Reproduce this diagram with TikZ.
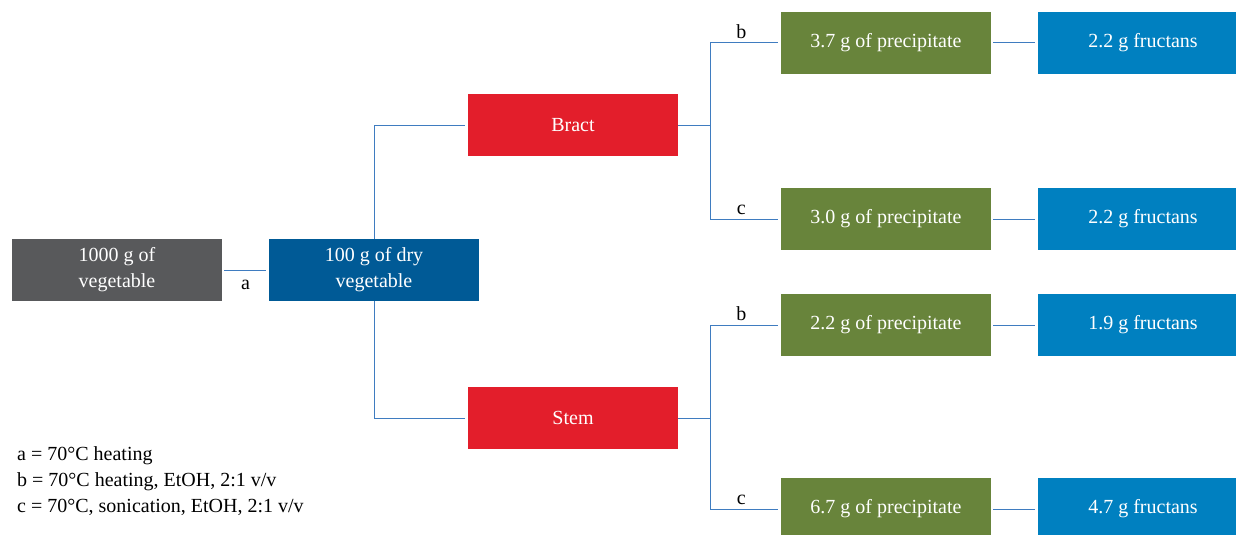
\documentclass[tikz,border=0pt]{standalone}
\usepackage{fontspec}
\setmainfont{Liberation Serif}
\usetikzlibrary{calc}
\definecolor{rawgray}{HTML}{58595B}
\definecolor{drynavy}{HTML}{005A96}
\definecolor{partred}{HTML}{E31E2B}
\definecolor{precgreen}{HTML}{68843B}
\definecolor{fruccyan}{HTML}{0080C0}
\definecolor{linkblue}{HTML}{3F7CC0}
\tikzset{box/.style={minimum width=210pt,minimum height=62pt,inner sep=0pt,
                     text=white,align=center,font=\fontsize{20}{26}\selectfont},
         raw/.style={box,fill=rawgray},
         dry/.style={box,fill=drynavy},
         part/.style={box,fill=partred},
         prec/.style={box,fill=precgreen},
         fruc/.style={box,fill=fruccyan},
         link/.style={draw=linkblue,line width=1pt,shorten >=3pt,shorten <=2pt},
         tag/.style={font=\fontsize{20}{26}\selectfont,inner sep=2pt},
         x=1pt,y=-1pt}

\begin{document}
\begin{tikzpicture}
\clip (0,0) rectangle (1236,535);
% sample and extraction
\node[raw] (raw) at (117,270) {1000 g of\\vegetable};
\node[dry] (dry) at (374,270) {100 g of dry\\vegetable};
\node[part] (bract) at (573,125) {Bract};
\node[part] (stem) at (573,418) {Stem};
% precipitates
\node[prec] (pb1) at (886,43) {3.7 g of precipitate};
\node[prec] (pc1) at (886,219) {3.0 g of precipitate};
\node[prec] (pb2) at (886,325) {2.2 g of precipitate};
\node[prec] (pc2) at (886,509) {6.7 g of precipitate};
% fructans
\node[fruc] (fb1) at (1143,43) {2.2 g fructans};
\node[fruc] (fc1) at (1143,219) {2.2 g fructans};
\node[fruc] (fb2) at (1143,325) {1.9 g fructans};
\node[fruc] (fc2) at (1143,509) {4.7 g fructans};

\draw[link] (raw) -- node[tag,below=8pt] {a} (dry);
\draw[link,shorten <=0pt] (dry.north) |- (bract.west);
\draw[link,shorten <=0pt] (dry.south) |- (stem.west);

\coordinate (sb) at ($(bract.east)+(32,0)$);
\coordinate (ss) at ($(stem.east)+(32,0)$);
\draw[link,shorten >=0pt,shorten <=0pt] (bract.east) -- (sb);
\draw[link,shorten >=0pt,shorten <=0pt] (stem.east) -- (ss);
\draw[link,shorten <=0pt] (sb) |- node[tag,above=2pt,pos=0.72] {b} (pb1.west);
\draw[link,shorten <=0pt] (sb) |- node[tag,above=2pt,pos=0.72] {c} (pc1.west);
\draw[link,shorten <=0pt] (ss) |- node[tag,above=2pt,pos=0.72] {b} (pb2.west);
\draw[link,shorten <=0pt] (ss) |- node[tag,above=2pt,pos=0.72] {c} (pc2.west);

\foreach \p/\f in {pb1/fb1,pc1/fc1,pb2/fb2,pc2/fc2}
  \draw[link] (\p) -- (\f);

\node[tag,anchor=north west,align=left,inner sep=0pt] (legend) at (17,446)
  {a = 70°C heating\\b = 70°C heating, EtOH, 2:1 v/v\\c = 70°C, sonication, EtOH, 2:1 v/v};
\end{tikzpicture}
\end{document}
